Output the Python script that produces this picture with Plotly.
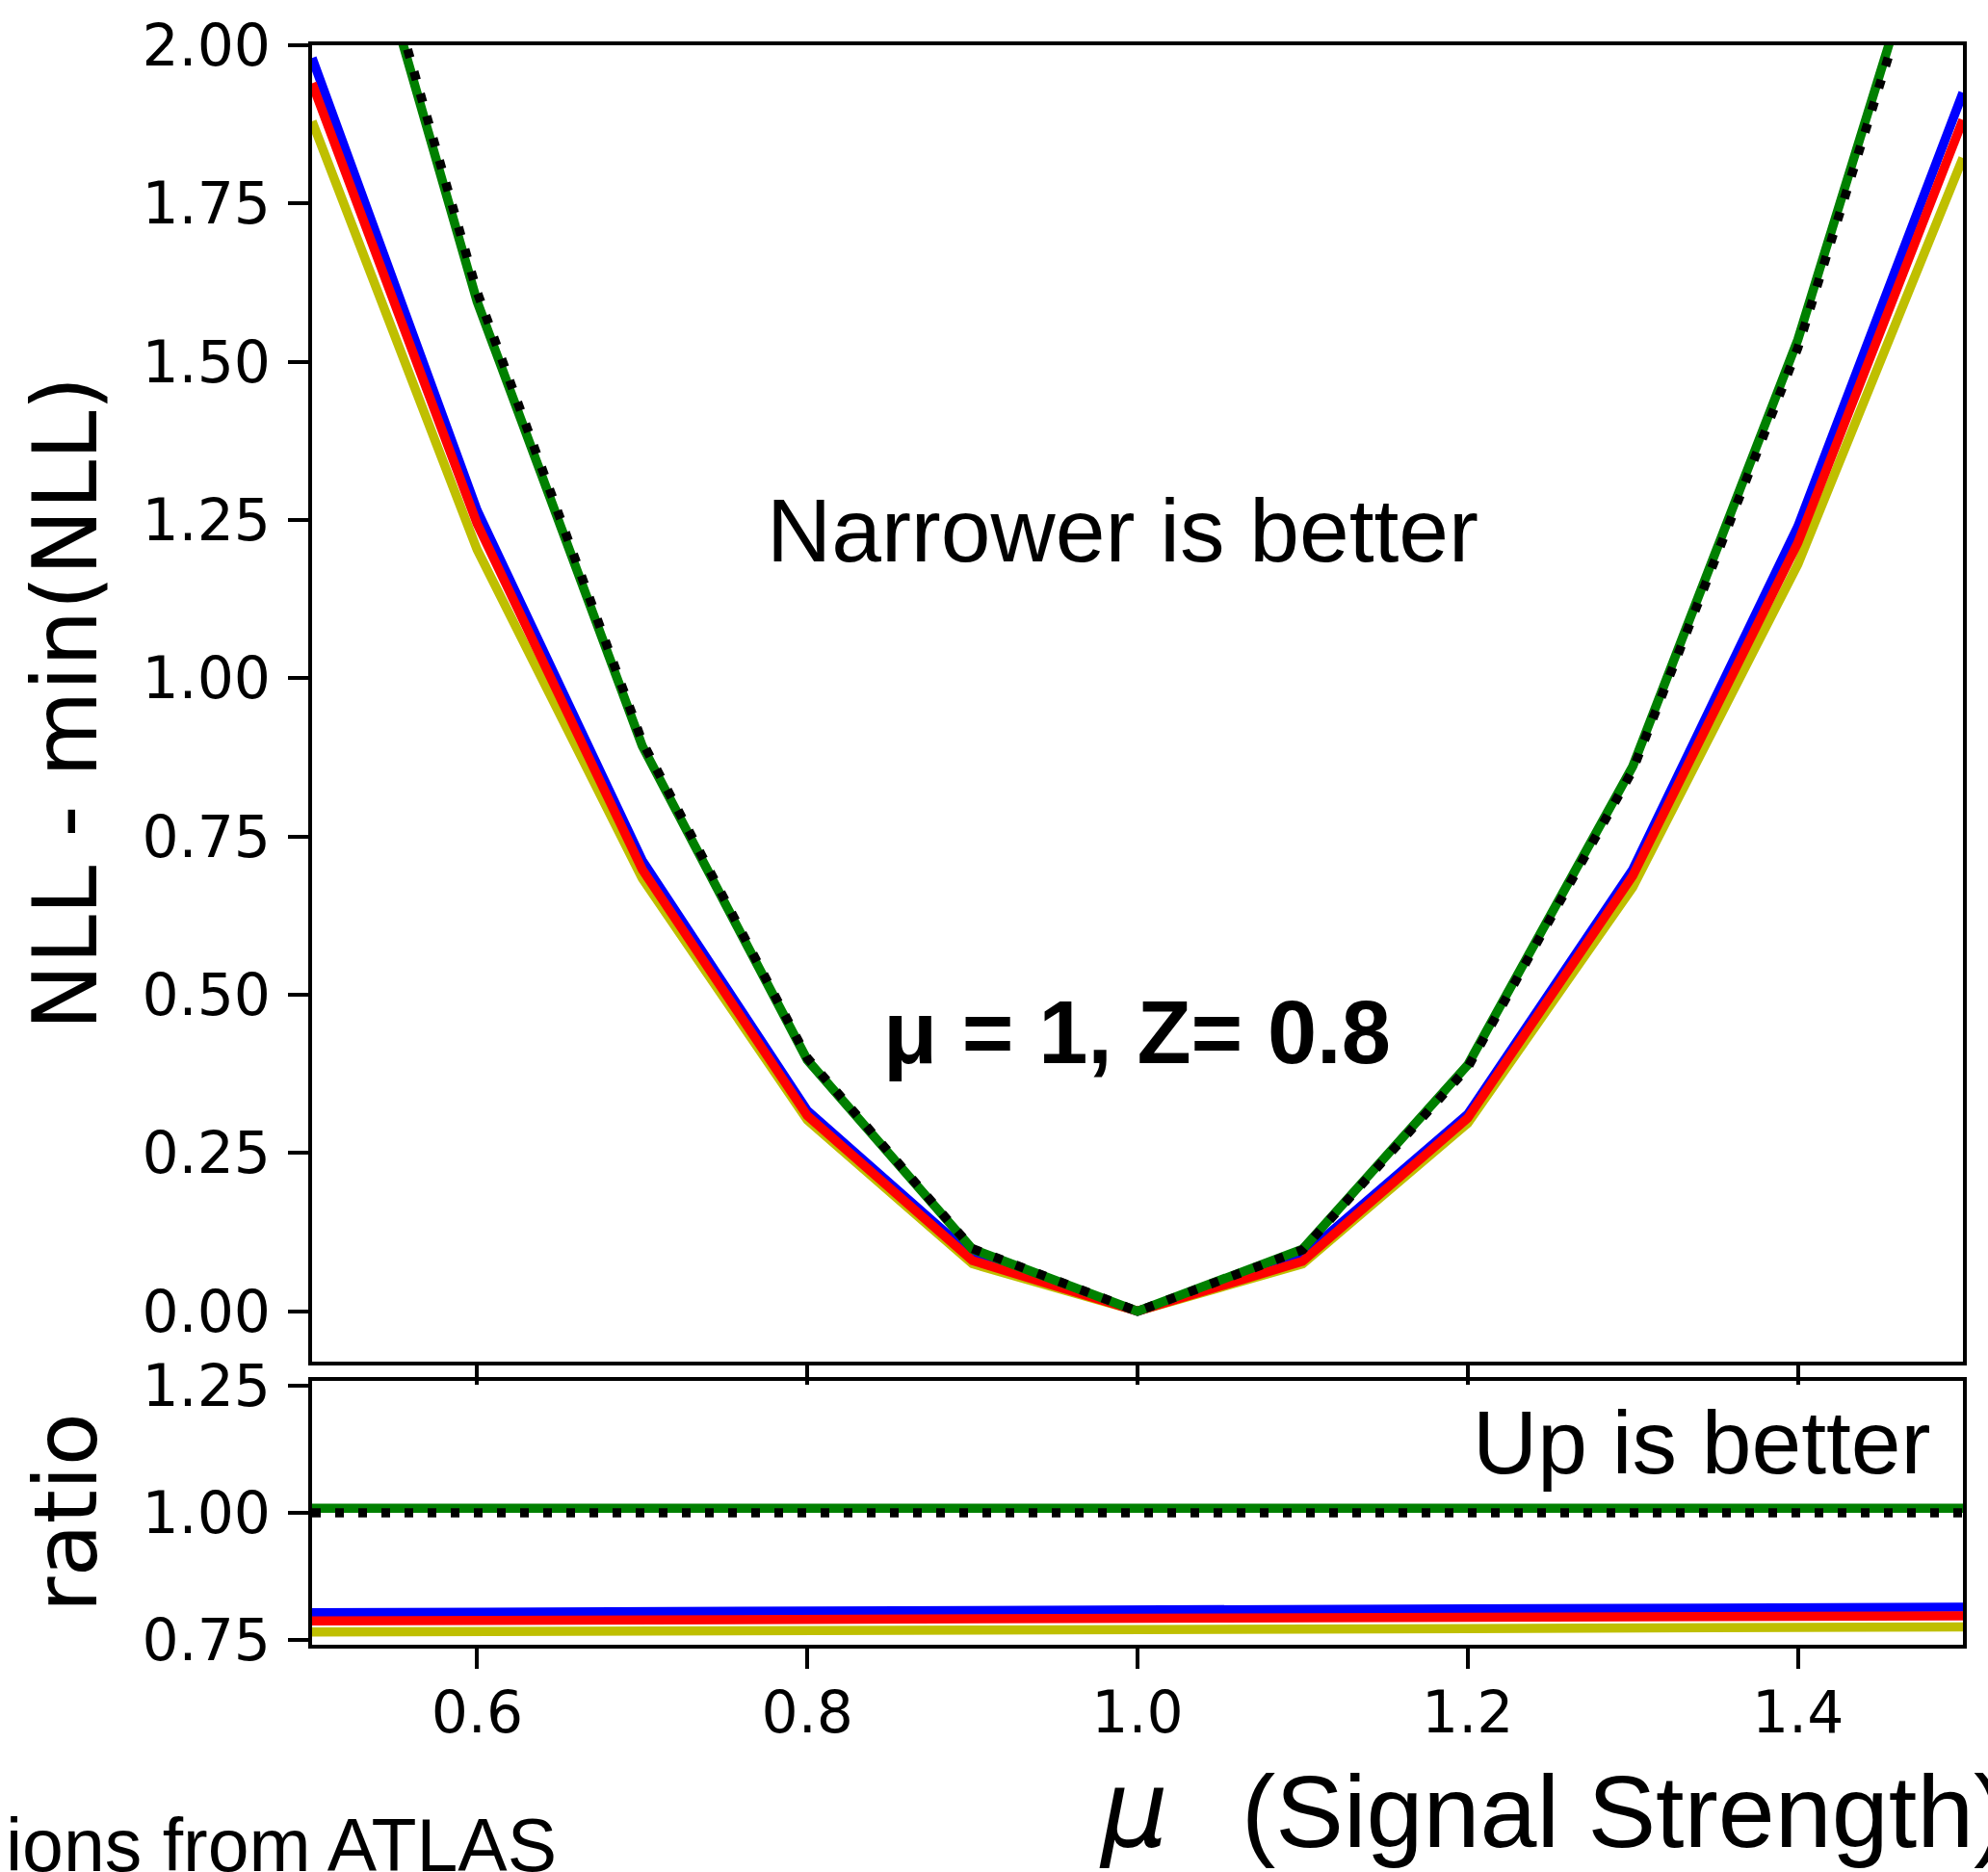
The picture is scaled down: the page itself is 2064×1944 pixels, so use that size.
import plotly.graph_objects as go
from plotly.subplots import make_subplots

# Signal-strength scan points
mu = [0.5, 0.6, 0.7, 0.8, 0.9, 1.0, 1.1, 1.2, 1.3, 1.4, 1.5]

# NLL - min(NLL) for each method
nll_blue = [1.980, 1.265, 0.712, 0.317, 0.087, 0.0, 0.087, 0.311, 0.698, 1.240, 1.925]
nll_red = [1.940, 1.244, 0.698, 0.309, 0.080, 0.0, 0.079, 0.305, 0.688, 1.214, 1.882]
nll_yellow = [1.880, 1.203, 0.684, 0.302, 0.075, 0.0, 0.075, 0.297, 0.670, 1.180, 1.822]
nll_green = [2.500, 1.595, 0.893, 0.397, 0.098, 0.0, 0.098, 0.389, 0.861, 1.535, 2.380]
nll_black = [2.520, 1.610, 0.900, 0.400, 0.099, 0.0, 0.097, 0.385, 0.855, 1.522, 2.360]

# Ratio to the reference (black) curve
ratio_blue = [0.803, 0.804, 0.805, 0.806, 0.807, 0.808, 0.809, 0.810, 0.811, 0.812, 0.814]
ratio_red = [0.787, 0.788, 0.789, 0.790, 0.791, 0.792, 0.793, 0.794, 0.795, 0.796, 0.797]
ratio_yellow = [0.765, 0.766, 0.767, 0.768, 0.769, 0.770, 0.771, 0.772, 0.773, 0.774, 0.775]
ratio_green = [1.009, 1.009, 1.009, 1.009, 1.009, 1.009, 1.009, 1.009, 1.009, 1.009, 1.009]
ratio_black = [1.0, 1.0, 1.0, 1.0, 1.0, 1.0, 1.0, 1.0, 1.0, 1.0, 1.0]

x_ticks = [0.6, 0.8, 1.0, 1.2, 1.4]
x_tick_text = ["0.6", "0.8", "1.0", "1.2", "1.4"]
nll_ticks = [0.0, 0.25, 0.5, 0.75, 1.0, 1.25, 1.5, 1.75, 2.0]
ratio_ticks = [0.75, 1.0, 1.25]

FIG_W, FIG_H = 2064, 1944
ML, MR, MT, MB = 324, 26, 40, 236
PW = FIG_W - ML - MR
PH = FIG_H - MT - MB


def px_x(px):
    return (px - ML) / PW


def px_y(py):
    return (FIG_H - MB - py) / PH


fig = make_subplots(rows=2, cols=1, shared_xaxes=False, vertical_spacing=0.0)

styles = [
    ("yellow", "#bfbf00", 9.5, None),
    ("blue", "#0000ff", 9.5, None),
    ("red", "#ff0000", 9.5, None),
    ("green", "#008000", 9.5, None),
    ("black", "#000000", 9.5, "9px,15px"),
]
upper = {"blue": nll_blue, "red": nll_red, "yellow": nll_yellow,
         "green": nll_green, "black": nll_black}
lower = {"blue": ratio_blue, "red": ratio_red, "yellow": ratio_yellow,
         "green": ratio_green, "black": ratio_black}

for name, color, width, dash in styles:
    line = dict(color=color, width=width)
    if dash:
        line["dash"] = dash
    fig.add_trace(go.Scatter(x=mu, y=upper[name], mode="lines", line=line,
                             showlegend=False), row=1, col=1)
    fig.add_trace(go.Scatter(x=mu, y=lower[name], mode="lines", line=line,
                             showlegend=False), row=2, col=1)

axis_common = dict(showline=True, linecolor="black", linewidth=4, mirror=True,
                   ticks="outside", tickcolor="black", tickwidth=4,
                   showgrid=False, zeroline=False,
                   tickfont=dict(family="DejaVu Sans", size=60, color="black"))

fig.update_xaxes(range=[0.5, 1.5], tickvals=x_ticks, ticklen=20,
                 showticklabels=False, domain=[0, 1], **axis_common,
                 row=1, col=1)
fig.update_xaxes(range=[0.5, 1.5], tickvals=x_ticks, ticklen=21,
                 ticktext=x_tick_text, ticklabelstandoff=-6,
                 domain=[0, 1], **axis_common, row=2, col=1)
fig.update_yaxes(range=[-0.08, 2.0], tickvals=nll_ticks, tickformat=".2f",
                 ticklen=21, ticklabelstandoff=6,
                 domain=[px_y(1413), 1.0], **axis_common, row=1, col=1)
fig.update_yaxes(range=[0.74, 1.26], tickvals=ratio_ticks, tickformat=".2f",
                 ticklen=21, ticklabelstandoff=6,
                 domain=[0.0, px_y(1433)], **axis_common, row=2, col=1)


def label(text, cx, cy, size, family="Liberation Sans", xanchor="center",
          angle=0):
    fig.add_annotation(text=text, xref="paper", yref="paper",
                       x=px_x(cx), y=px_y(cy), xanchor=xanchor,
                       yanchor="middle", showarrow=False, textangle=angle,
                       font=dict(family=family, size=size, color="black"))


# axis titles
label("NLL - min(NLL)", 68, 726, 92, family="DejaVu Sans", angle=-90)
label("ratio", 69, 1570, 90, family="DejaVu Sans", angle=-90)
label("<i>μ</i>", 1177, 1918 - 0.346 * 110, 110, family="DejaVu Sans")
label("(Signal Strength)", 1287, 1918 - 0.3465 * 106, 106, xanchor="left")

# in-plot annotations
label("Narrower is better", 1165, 578 - 0.3465 * 93, 93)
label("<b>μ = 1, Z= 0.8</b>", 1180, 1101 - 0.3465 * 92, 92)
label("Up is better", 2007, 1529 - 0.3465 * 93, 93, xanchor="right")
label("ions from ATLAS", 580, 1944 - 0.3465 * 77, 77, xanchor="right")

fig.update_layout(width=FIG_W, height=FIG_H,
                  margin=dict(l=ML, r=MR, t=MT, b=MB, pad=0),
                  plot_bgcolor="white", paper_bgcolor="white")

fig.write_html("out.html")
